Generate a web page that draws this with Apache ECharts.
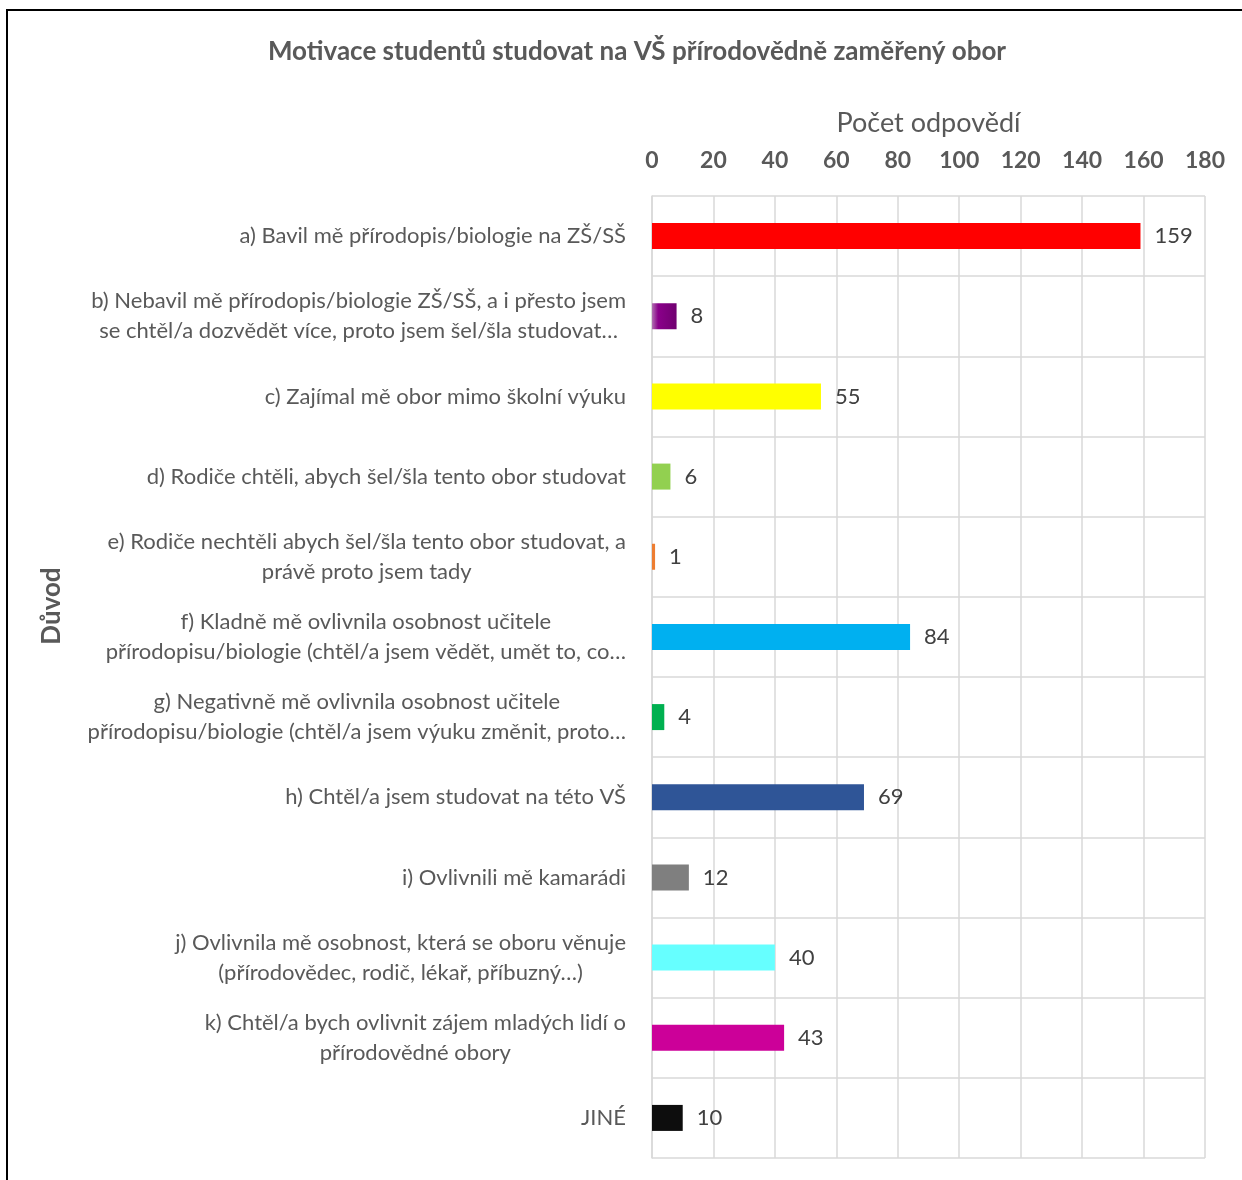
<!DOCTYPE html>
<html><head><meta charset="utf-8">
<script src="https://cdn.jsdelivr.net/npm/echarts@6/dist/echarts.min.js"></script>
<style>html,body{margin:0;padding:0;background:#fff}#c{width:1242px;height:1180px}</style>
</head><body><div id="c"></div>
<script>
const categories = [
  "a) Bavil mě přírodopis/biologie na ZŠ/SŠ",
  "b) Nebavil mě přírodopis/biologie ZŠ/SŠ, a i přesto jsem\nse chtěl/a dozvědět více, proto jsem šel/šla studovat…",
  "c) Zajímal mě obor mimo školní výuku",
  "d) Rodiče chtěli, abych šel/šla tento obor studovat",
  "e) Rodiče nechtěli abych šel/šla tento obor studovat, a\nprávě proto jsem tady",
  "f) Kladně mě ovlivnila osobnost učitele\npřírodopisu/biologie (chtěl/a jsem vědět, umět to, co…",
  "g) Negativně mě ovlivnila osobnost učitele\npřírodopisu/biologie (chtěl/a jsem výuku změnit, proto…",
  "h) Chtěl/a jsem studovat na této VŠ",
  "i) Ovlivnili mě kamarádi",
  "j) Ovlivnila mě osobnost, která se oboru věnuje\n(přírodovědec, rodič, lékař, příbuzný…)",
  "k) Chtěl/a bych ovlivnit zájem mladých lidí o\npřírodovědné obory",
  "JINÉ"
];
const values = [159, 8, 55, 6, 1, 84, 4, 69, 12, 40, 43, 10];
const xTicks = [0, 20, 40, 60, 80, 100, 120, 140, 160, 180];
const colors = ["#ff0000", "purple", "#ffff00", "#92d050", "#ed7d31", "#00b0f0", "#00b050", "#2f5597", "#7f7f7f", "#66ffff", "#cc0099", "#0d0d0d"];

const FONT = "Lato";
const purpleGrad = new echarts.graphic.LinearGradient(0, 0, 1, 0, [
  {offset: 0, color: "#b070b0"}, {offset: 0.25, color: "#8a008a"}, {offset: 1, color: "#700070"}
]);

const chart = echarts.init(document.getElementById('c'), null, {renderer: 'canvas'});
chart.setOption({
  animation: false,
  backgroundColor: '#fff',
  title: {
    text: "Motivace studentů studovat na VŠ přírodovědně zaměřený obor",
    left: 632, top: 34, textAlign: 'center',
    textStyle: {fontFamily: FONT, fontSize: 26, fontWeight: 'bold', color: '#595959'}
  },
  graphic: [{
    type: 'rect', z: 100, silent: true,
    shape: {x: 7, y: 10, width: 1300, height: 1300},
    style: {fill: 'none', stroke: '#000', lineWidth: 2}
  }, {
    type: 'text', x: 52, y: 606, rotation: Math.PI / 2, z: 10,
    style: {text: 'Důvod', fontFamily: FONT, fontSize: 26, fontWeight: 'bold', fill: '#595959',
      align: 'center', verticalAlign: 'middle', x: 0, y: 0}
  }],
  grid: {left: 652, top: 196, width: 553, height: 962, containLabel: false},
  xAxis: {
    type: 'value', position: 'top', min: 0, max: 180, interval: 20,
    name: 'Počet odpovědí', nameLocation: 'middle', nameGap: 59,
    nameTextStyle: {fontFamily: FONT, fontSize: 27, color: '#595959'},
    axisLine: {show: false}, axisTick: {show: false},
    axisLabel: {fontFamily: FONT, fontSize: 23, fontWeight: 'bold', color: '#595959', margin: 24,
      formatter: v => xTicks.includes(v) ? String(v) : ''},
    splitLine: {show: true, lineStyle: {color: '#d9d9d9', width: 1.5}}
  },
  yAxis: {
    type: 'category', data: categories, inverse: true,
    axisLine: {show: true, lineStyle: {color: '#d9d9d9', width: 1.5}},
    axisTick: {show: false},
    splitLine: {show: true, lineStyle: {color: '#d9d9d9', width: 1.5}},
    axisLabel: {
      margin: 26, interval: 0,
      formatter: v => v.split('\n').map(l => '{c|' + l + '}').join('\n'),
      rich: {c: {align: 'center', fontFamily: FONT, fontSize: 22, color: '#595959', lineHeight: 30}}
    }
  },
  series: [{
    type: 'bar', barWidth: 26,
    data: values.map((v, i) => ({value: v, itemStyle: {color: colors[i] === 'purple' ? purpleGrad : colors[i]}})),
    label: {show: true, position: 'right', distance: 14, fontFamily: FONT, fontSize: 22, color: '#404040'}
  }]
});
</script></body></html>
